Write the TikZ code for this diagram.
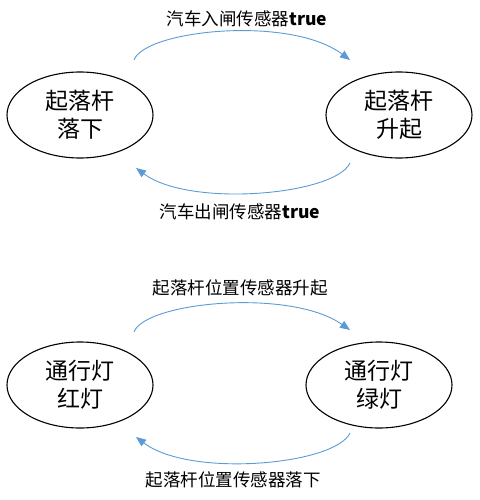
\documentclass[tikz,border=0pt]{standalone}
\usepackage{fontspec}
\setmainfont{Noto Sans CJK SC}
\usetikzlibrary{shapes.geometric,arrows.meta}
\definecolor{arrowblue}{RGB}{91,155,213}
\tikzset{
  state/.style={draw=black, line width=1.1pt, ellipse, minimum width=146pt, minimum height=86pt, inner sep=0pt, align=center, font=\fontsize{23}{28}\selectfont},
  trans/.style={draw=arrowblue, line width=0.9pt, -{Triangle[length=10pt,width=8pt]}},
  lbl/.style={font=\fontsize{17.5}{19}\selectfont, inner sep=0pt}
}
\begin{document}
\begin{tikzpicture}[x=1pt,y=-1pt]
\useasboundingbox (0,0) rectangle (479,500);
% top pair
\node[state] (down) at (80,115) {起落杆\\落下};
\node[state] (up) at (399,115) {起落杆\\升起};
\coordinate (a1s) at (134,60);
\coordinate (a1e) at (350,60);
\coordinate (a2s) at (350,163);
\coordinate (a2e) at (136,168);
\draw[trans] (a1s) .. controls (145,30) and (290,15) .. (a1e);
\draw[trans] (a2s) .. controls (335,195) and (190,208) .. (a2e);
\node[lbl] (l1) at (247,19) {汽车入闸传感器\textbf{true}};
\node[lbl] (l2) at (240,212) {汽车出闸传感器\textbf{true}};
% bottom pair
\node[state] (red) at (80,385) {通行灯\\红灯};
\node[state] (green) at (379,385) {通行灯\\绿灯};
\coordinate (b1s) at (134,332);
\coordinate (b1e) at (350,330);
\coordinate (b2s) at (350,433);
\coordinate (b2e) at (136,437);
\draw[trans] (b1s) .. controls (145,302) and (290,288) .. (b1e);
\draw[trans] (b2s) .. controls (335,465) and (190,478) .. (b2e);
\node[lbl] (l3) at (240,288) {起落杆位置传感器升起};
\node[lbl] (l4) at (233,480) {起落杆位置传感器落下};
\end{tikzpicture}
\end{document}
